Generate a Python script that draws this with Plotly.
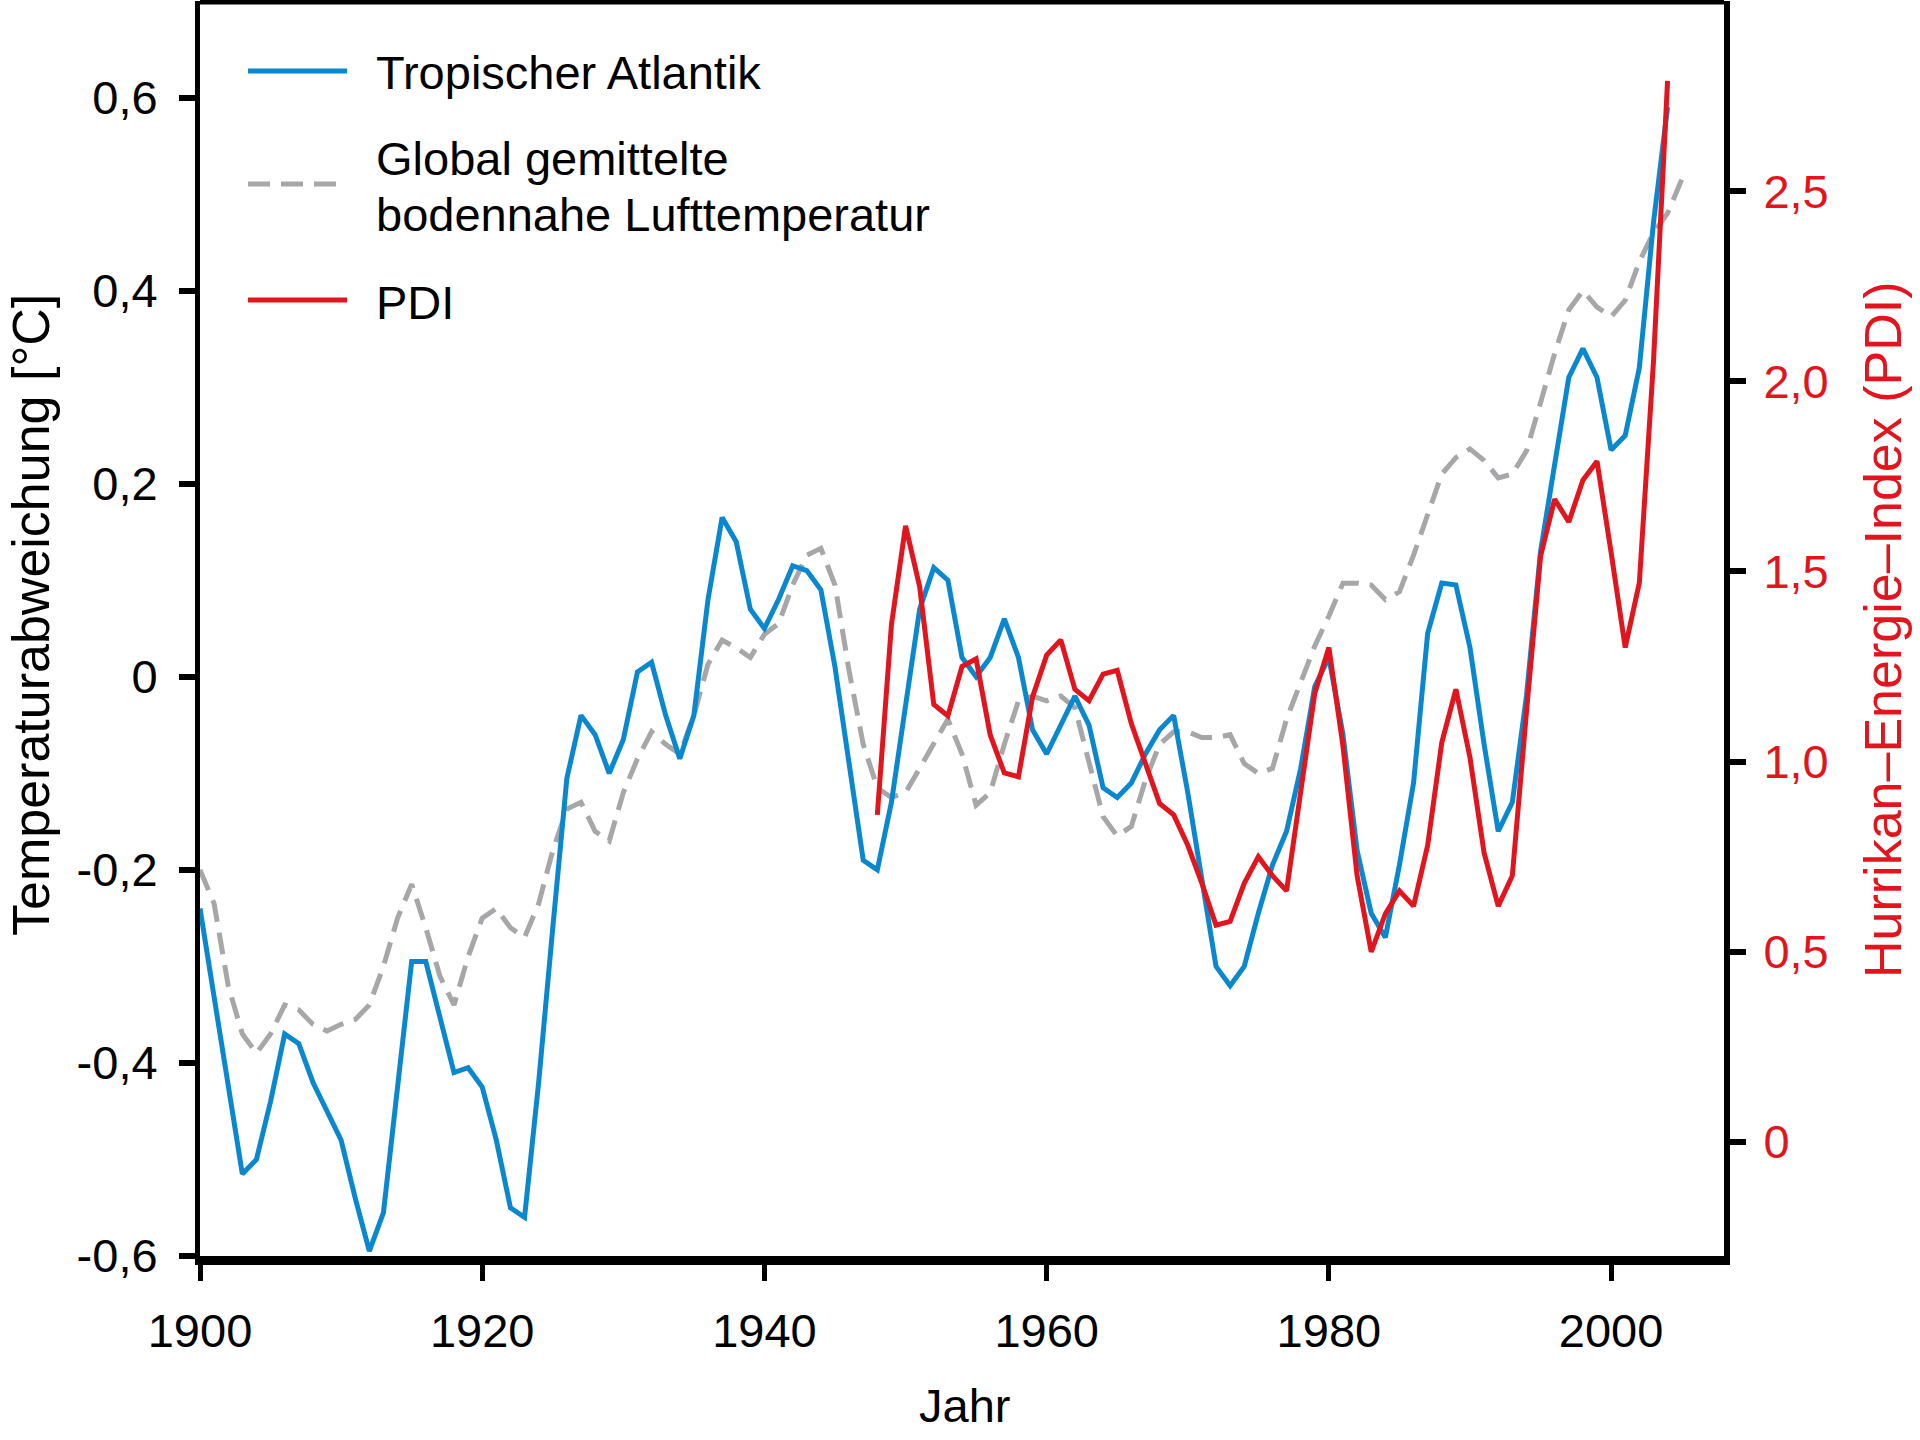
import plotly.graph_objects as go

# Jahre (x-Achse)
jahre_atlantik = list(range(1900, 2005))
jahre_global = list(range(1900, 2006))
jahre_pdi = list(range(1948, 2005))

# Temperaturabweichung Tropischer Atlantik [°C]
atlantik = [
    -0.24, -0.33, -0.42, -0.515, -0.50, -0.44, -0.37, -0.38, -0.42, -0.45,
    -0.48, -0.54, -0.595, -0.555, -0.42, -0.295, -0.295, -0.35, -0.41, -0.405,
    -0.425, -0.48, -0.55, -0.56, -0.42, -0.26, -0.105, -0.04, -0.06, -0.10,
    -0.065, 0.005, 0.015, -0.04, -0.085, -0.04, 0.08, 0.165, 0.14, 0.07,
    0.05, 0.08, 0.115, 0.11, 0.09, 0.01, -0.09, -0.19, -0.20, -0.13,
    -0.03, 0.07, 0.113, 0.10, 0.02, 0.0, 0.02, 0.06, 0.02, -0.055,
    -0.08, -0.05, -0.02, -0.05, -0.115, -0.125, -0.11, -0.08, -0.055, -0.04,
    -0.12, -0.21, -0.30, -0.32, -0.30, -0.245, -0.195, -0.16, -0.095, -0.01,
    0.02, -0.06, -0.18, -0.245, -0.27, -0.195, -0.11, 0.045, 0.097, 0.095,
    0.03, -0.07, -0.16, -0.13, -0.02, 0.13, 0.22, 0.31, 0.34, 0.31,
    0.235, 0.25, 0.32, 0.47, 0.59,
]

# Global gemittelte bodennahe Lufttemperatur [°C]
global_temp = [
    -0.20, -0.235, -0.32, -0.37, -0.39, -0.37, -0.34, -0.345, -0.36, -0.367,
    -0.36, -0.355, -0.34, -0.30, -0.25, -0.215, -0.26, -0.31, -0.34, -0.29,
    -0.25, -0.24, -0.26, -0.27, -0.235, -0.18, -0.137, -0.13, -0.16, -0.17,
    -0.12, -0.085, -0.057, -0.07, -0.08, -0.04, 0.013, 0.038, 0.03, 0.02,
    0.044, 0.055, 0.095, 0.126, 0.133, 0.095, 0.006, -0.07, -0.115, -0.125,
    -0.12, -0.095, -0.07, -0.044, -0.08, -0.133, -0.12, -0.07, -0.025, -0.02,
    -0.025, -0.02, -0.032, -0.09, -0.145, -0.165, -0.155, -0.107, -0.07, -0.057,
    -0.057, -0.063, -0.063, -0.06, -0.09, -0.10, -0.095, -0.044, -0.006, 0.032,
    0.063, 0.097, 0.097, 0.095, 0.08, 0.088, 0.126, 0.17, 0.21, 0.227,
    0.236, 0.224, 0.206, 0.21, 0.234, 0.284, 0.335, 0.38, 0.40, 0.383,
    0.373, 0.39, 0.43, 0.46, 0.48, 0.515,
]

# Hurrikan-Energie-Index (PDI)
pdi = [
    0.86, 1.36, 1.62, 1.46, 1.15, 1.12, 1.25, 1.27, 1.07, 0.97,
    0.96, 1.17, 1.28, 1.32, 1.19, 1.16, 1.23, 1.24, 1.10, 0.99,
    0.89, 0.86, 0.78, 0.68, 0.57, 0.58, 0.68, 0.75, 0.70, 0.66,
    0.91, 1.18, 1.30, 1.04, 0.70, 0.50, 0.60, 0.66, 0.62, 0.78,
    1.05, 1.19, 1.01, 0.76, 0.62, 0.70, 1.13, 1.54, 1.69, 1.63,
    1.74, 1.79, 1.55, 1.30, 1.47, 2.05, 2.79,
]

x_ticks = [1900, 1920, 1940, 1960, 1980, 2000]
y_ticks = [-0.6, -0.4, -0.2, 0, 0.2, 0.4, 0.6]
y_ticktext = ["-0,6", "-0,4", "-0,2", "0", "0,2", "0,4", "0,6"]
y2_ticks = [0, 0.5, 1.0, 1.5, 2.0, 2.5]
y2_ticktext = ["0", "0,5", "1,0", "1,5", "2,0", "2,5"]

BLAU = "#0a88cf"
ROT = "#e2141d"
GRAU = "#a7a7a9"
FONT = "Liberation Sans, Arial, sans-serif"
GRUNDSCHRIFT = 47
TITELSCHRIFT = 52

W, H = 1920, 1440
L, R, T, B = 200, 196, 1, 184
PW, PH = W - L - R, H - T - B


def px(x, y):
    """Pixel -> paper Koordinaten."""
    return (x - L) / PW, (H - B - y) / PH


fig = go.Figure()

fig.add_trace(go.Scatter(
    x=jahre_global, y=global_temp, mode="lines",
    line=dict(color=GRAU, width=5, dash="22px,11px"),
    showlegend=False,
))
fig.add_trace(go.Scatter(
    x=jahre_atlantik, y=atlantik, mode="lines",
    line=dict(color=BLAU, width=5),
    showlegend=False,
))
fig.add_trace(go.Scatter(
    x=jahre_pdi, y=pdi, mode="lines", yaxis="y2",
    line=dict(color=ROT, width=5),
    showlegend=False,
))

# obere Rahmenlinie
fig.add_shape(type="line", xref="paper", yref="paper",
              x0=0, x1=1, y0=px(0, 2)[1], y1=px(0, 2)[1],
              line=dict(color="black", width=5))

# Legende von Hand
legende = [
    (71, BLAU, "solid"),
    (184, GRAU, "22px,11px"),
    (300, ROT, "solid"),
]
for y, farbe, dash in legende:
    x0, yy = px(248, y)
    x1, _ = px(347, y)
    fig.add_shape(type="line", xref="paper", yref="paper",
                  x0=x0, x1=x1, y0=yy, y1=yy,
                  line=dict(color=farbe, width=5, dash=dash))

texte = [
    (73, "Tropischer Atlantik"),
    (159, "Global gemittelte"),
    (214, "bodennahe Lufttemperatur"),
    (302, "PDI"),
]
for y, t in texte:
    xx, yy = px(374, y)
    fig.add_annotation(x=xx, y=yy, xref="paper", yref="paper", text=t,
                       showarrow=False, xanchor="left", yanchor="middle",
                       font=dict(size=GRUNDSCHRIFT, color="black", family=FONT))

# Achsentitel
xx, yy = px(31, 615)
fig.add_annotation(x=xx, y=yy, xref="paper", yref="paper",
                   text="Temperaturabweichung [°C]", textangle=-90,
                   showarrow=False, xanchor="center", yanchor="middle",
                   font=dict(size=TITELSCHRIFT, color="black", family=FONT))
xx, yy = px(1883, 630)
fig.add_annotation(x=xx, y=yy, xref="paper", yref="paper",
                   text="Hurrikan–Energie–Index (PDI)", textangle=-90,
                   showarrow=False, xanchor="center", yanchor="middle",
                   font=dict(size=TITELSCHRIFT, color=ROT, family=FONT))
xx, yy = px(964, 1406)
fig.add_annotation(x=xx, y=yy, xref="paper", yref="paper",
                   text="Jahr", showarrow=False,
                   xanchor="center", yanchor="middle",
                   font=dict(size=GRUNDSCHRIFT, color="black", family=FONT))

fig.update_layout(
    width=W, height=H,
    margin=dict(l=L, r=R, t=T, b=B),
    paper_bgcolor="white", plot_bgcolor="white",
    font=dict(family=FONT, size=GRUNDSCHRIFT, color="black"),
    xaxis=dict(
        range=[1900, 2008], tickvals=x_ticks,
        showgrid=False, zeroline=False,
        showline=True, linecolor="black", linewidth=9,
        ticks="outside", ticklen=16, tickwidth=5, tickcolor="black",
        ticklabelstandoff=10,
        tickfont=dict(size=GRUNDSCHRIFT, family=FONT, color="black"),
    ),
    yaxis=dict(
        range=[-0.6, 0.7], tickvals=y_ticks, ticktext=y_ticktext,
        showgrid=False, zeroline=False,
        showline=True, linecolor="black", linewidth=5,
        ticks="outside", ticklen=16, tickwidth=6, tickcolor="black",
        ticklabelstandoff=12,
        tickfont=dict(size=GRUNDSCHRIFT, family=FONT, color="black"),
    ),
    yaxis2=dict(
        range=[-0.3, 3.0], tickvals=y2_ticks, ticktext=y2_ticktext,
        overlaying="y", side="right",
        showgrid=False, zeroline=False,
        showline=True, linecolor="black", linewidth=6,
        ticks="outside", ticklen=16, tickwidth=6, tickcolor="black",
        ticklabelstandoff=8,
        tickfont=dict(size=GRUNDSCHRIFT, family=FONT, color=ROT),
    ),
)

fig.write_html("out.html", config={"displayModeBar": False},
               post_script="document.body.style.margin='0';")
